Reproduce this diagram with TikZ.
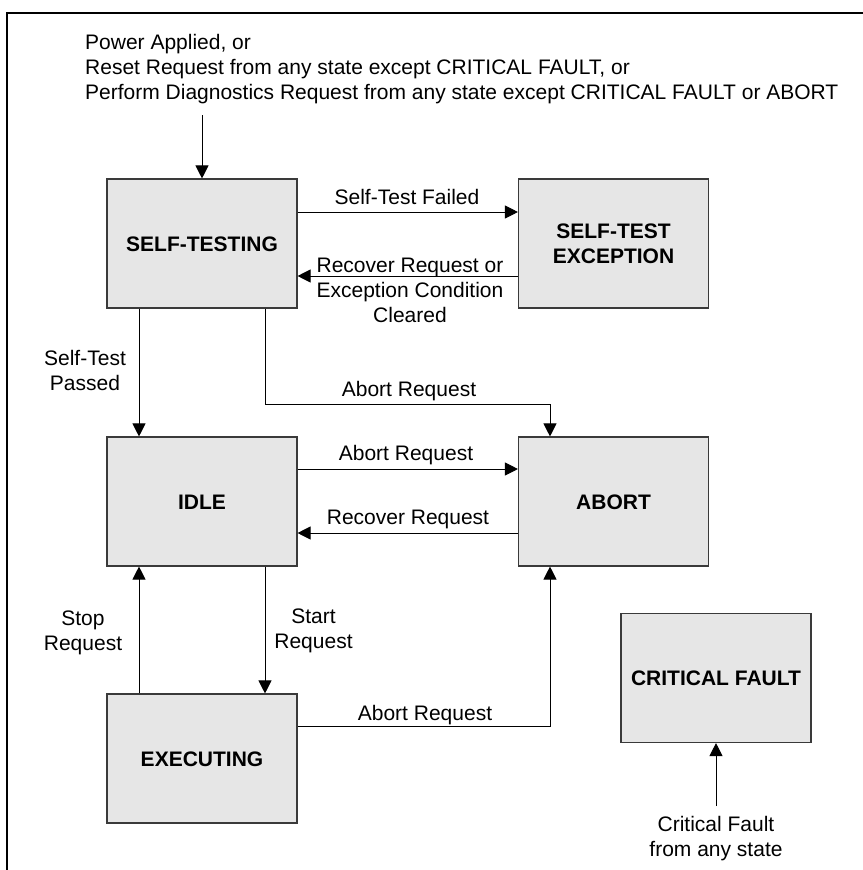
\documentclass[tikz,border=0pt]{standalone}
\usepackage{fontspec}
\setmainfont{Liberation Sans}
\usetikzlibrary{arrows.meta}
\definecolor{boxfill}{HTML}{E6E6E6}
\definecolor{boxline}{HTML}{3A3A3A}
\tikzset{
  state/.style={draw=boxline, line width=1.1pt, fill=boxfill, minimum width=190pt, minimum height=129pt,
    inner sep=0pt, align=center, font=\fontsize{21}{25}\selectfont\bfseries, text height=15pt, text depth=0pt},
  lbl/.style={inner sep=0pt, align=center, font=\fontsize{21}{25}\selectfont, text height=15pt, text depth=0pt},
  twolines/.style={text height=40pt},
  threelines/.style={text height=65pt},
  arr/.style={draw=black, line width=1pt, -{Triangle[length=13pt,width=13pt]}},
  frame/.style={draw=black, line width=2pt}
}
\begin{document}
\begin{tikzpicture}[x=1pt, y=-1pt]
\useasboundingbox (0,0) rectangle (862,870);
% frame
\coordinate (fr1) at (863,13);
\coordinate (fr2) at (7,13);
\coordinate (fr3) at (7,871);
\draw[frame] (fr1) -- (fr2) -- (fr3);

% states
\node[state] (ST)   at (202,243.5) {SELF-TESTING};
\node[state, twolines] (STE)  at (613.5,243.5) {SELF-TEST\\EXCEPTION};
\node[state] (IDLE) at (202,501.5) {IDLE};
\node[state] (AB)   at (613.5,501.5) {ABORT};
\node[state] (EX)   at (202,758.5) {EXECUTING};
\node[state] (CF)   at (716,678) {CRITICAL FAULT};

% entry
\node[lbl, threelines, align=left, anchor=west] (entry) at (85,67) {Power Applied, or\\Reset Request from any state except CRITICAL FAULT, or\\Perform Diagnostics Request from any state except CRITICAL FAULT or ABORT};
\coordinate (entrystart) at (202,115);
\draw[arr] (entrystart) -- (ST.north);

% self-test failed / recover
\draw[arr] ([yshift=31.5pt]ST.east) -- ([yshift=31.5pt]STE.west);
\node[lbl] (l1) at (407,197) {Self-Test Failed};
\draw[arr] ([yshift=-32.5pt]STE.west) -- ([yshift=-32.5pt]ST.east);
\node[lbl, threelines] (l2) at (410,290) {Recover Request or\\Exception Condition\\Cleared};

% self-test passed
\draw[arr] ([xshift=-63pt]ST.south) -- ([xshift=-63pt]IDLE.north);
\node[lbl, twolines] (l3) at (85,370) {Self-Test\\Passed};

% abort from self-testing
\draw[arr] ([xshift=63pt]ST.south) -- ++(0,96) -| ([xshift=-63.5pt]AB.north);
\node[lbl] (l4) at (409,389) {Abort Request};

% idle <-> abort
\draw[arr] ([yshift=32.5pt]IDLE.east) -- ([yshift=32.5pt]AB.west);
\node[lbl] (l5) at (406,453) {Abort Request};
\draw[arr] ([yshift=-31.5pt]AB.west) -- ([yshift=-31.5pt]IDLE.east);
\node[lbl] (l6) at (408,517) {Recover Request};

% idle <-> executing
\draw[arr] ([xshift=-63pt]EX.north) -- ([xshift=-63pt]IDLE.south);
\node[lbl, twolines] (l7) at (83,630) {Stop\\Request};
\draw[arr] ([xshift=63pt]IDLE.south) -- ([xshift=63pt]EX.north);
\node[lbl, twolines] (l8) at (313.5,628.5) {Start\\Request};

% executing -> abort
\draw[arr] ([yshift=32.5pt]EX.east) -| ([xshift=-63.5pt]AB.south);
\node[lbl] (l9) at (425,713) {Abort Request};

% critical fault
\coordinate (cfstart) at (716,806);
\draw[arr] (cfstart) -- (CF.south);
\node[lbl, twolines] (l10) at (716,836.5) {Critical Fault\\from any state};
\end{tikzpicture}
\end{document}
